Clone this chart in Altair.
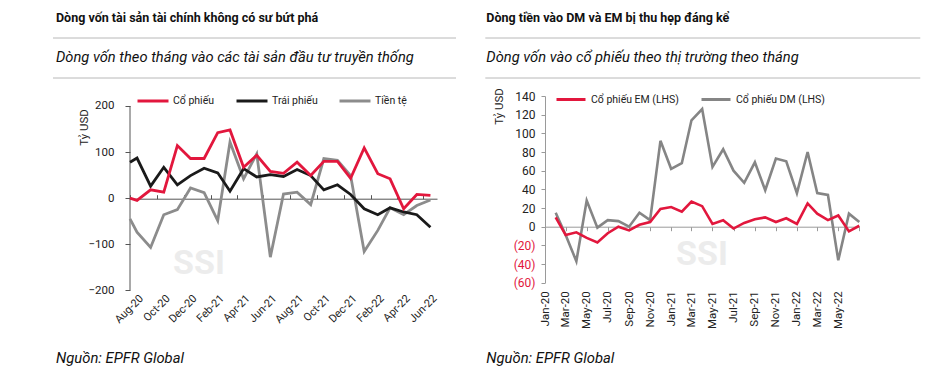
import altair as alt
import pandas as pd

FONT = "Roboto"
RED = "#e2173d"
BLACK = "#1a1a1a"
GRAY_L = "#8c8c8c"
GRAY_R = "#858585"
TXT = "#222222"

# ---------------- Left chart data ----------------
left_dates = [
    "2020-07-16", "2020-08-01", "2020-09-01", "2020-10-01", "2020-11-01", "2020-12-01",
    "2021-01-01", "2021-02-01", "2021-03-01", "2021-04-01", "2021-05-01", "2021-06-01",
    "2021-07-01", "2021-08-01", "2021-09-01", "2021-10-01", "2021-11-01", "2021-12-01",
    "2022-01-01", "2022-02-01", "2022-03-01", "2022-04-01", "2022-05-01", "2022-06-01",
]
left_equity = [0, -5, 18, 13, 114, 86, 86, 142, 148, 67, 93, 58,
               54, 78, 49, 80, 80, 43, 109, 53, 42, -23, 8, 6]
left_bonds = [78, 87, 26, 67, 29, 49, 65, 55, 15, 64, 46, 51,
              47, 62, 49, 18, 29, 8, -23, -36, -21, -30, -36, -63]
left_money = [-45, -74, -107, -36, -25, 22, 12, -49, 122, 42, 96, -128,
              9, 13, -14, 86, 82, 49, -116, -70, -21, -36, -16, -4]
left_series = ["Cổ phiếu", "Trái phiếu", "Tiền tệ"]
left_colors = [RED, BLACK, GRAY_L]
left_label_dates = ["2020-08-01", "2020-10-01", "2020-12-01", "2021-02-01", "2021-04-01",
                    "2021-06-01", "2021-08-01", "2021-10-01", "2021-12-01", "2022-02-01",
                    "2022-04-01", "2022-06-01"]
left_tick_dates = ["2020-07-16", "2020-09-16", "2020-11-16", "2021-01-16", "2021-03-16",
                   "2021-05-16", "2021-07-16", "2021-09-16", "2021-11-16", "2022-01-16",
                   "2022-03-16", "2022-05-16"]
left_y_ticks = [-200, -150, -100, -50, 0, 50, 100, 150, 200]

# ---------------- Right chart data ----------------
right_dates = [
    "2020-02-01", "2020-03-01", "2020-04-01", "2020-05-01", "2020-06-01", "2020-07-01",
    "2020-08-01", "2020-09-01", "2020-10-01", "2020-11-01", "2020-12-01", "2021-01-01",
    "2021-02-01", "2021-03-01", "2021-04-01", "2021-05-01", "2021-06-01", "2021-07-01",
    "2021-08-01", "2021-09-01", "2021-10-01", "2021-11-01", "2021-12-01", "2022-01-01",
    "2022-02-01", "2022-03-01", "2022-04-01", "2022-05-01", "2022-06-01", "2022-07-01",
]
right_em = [10, -9, -6, -12, -17, -7, 0, -4, 2, 5, 19, 21, 16, 27, 22,
            3, 7, -2, 4, 8, 10, 5, 9, 3, 25, 14, 7, 12, -5, 1]
right_dm = [15, -9, -37, 28, -1, 7, 6, 0, 15, 7, 92, 62, 68, 114, 126,
            64, 83, 60, 47, 69, 39, 73, 70, 36, 80, 36, 34, -36, 14, 5]
right_series = ["Cổ phiếu EM (LHS)", "Cổ phiếu DM (LHS)"]
right_colors = [RED, GRAY_R]
right_label_dates = ["2020-01-01", "2020-03-01", "2020-05-01", "2020-07-01", "2020-09-01",
                     "2020-11-01", "2021-01-01", "2021-03-01", "2021-05-01", "2021-07-01",
                     "2021-09-01", "2021-11-01", "2022-01-01", "2022-03-01", "2022-05-01"]
right_tick_dates = right_label_dates + ["2022-07-01"]
right_y_ticks = [-60, -40, -20, 0, 20, 40, 60, 80, 100, 120, 140]


def dt(s):
    y, m, d = (int(p) for p in s.split("-"))
    return alt.DateTime(year=y, month=m, date=d)


left_df = pd.DataFrame({
    "date": pd.to_datetime(left_dates * 3),
    "value": left_money + left_bonds + left_equity,
    "series": [left_series[2]] * 24 + [left_series[1]] * 24 + [left_series[0]] * 24,
})
right_df = pd.DataFrame({
    "date": pd.to_datetime(right_dates * 2),
    "value": right_dm + right_em,
    "series": [right_series[1]] * 30 + [right_series[0]] * 30,
})

one = pd.DataFrame({"a": [0]})


def header_layers(title, subtitle, x0, x1, xt):
    base = alt.Chart(one)
    return [
        base.mark_rule(color="white").encode(x=alt.value(x0), x2=alt.value(x1), y=alt.value(-95)),
        base.mark_text(text=title, align="left", baseline="middle", font=FONT, fontSize=12.5,
                       fontWeight="bold", color="#111111").encode(x=alt.value(xt), y=alt.value(-78)),
        base.mark_rule(color="#b8b8b8", strokeWidth=1).encode(x=alt.value(x0), x2=alt.value(x1), y=alt.value(-58)),
        base.mark_text(text=subtitle, align="left", baseline="middle", font=FONT, fontSize=14.7,
                       fontStyle="italic", color="#111111").encode(x=alt.value(xt), y=alt.value(-38)),
        base.mark_rule(color="#b8b8b8", strokeWidth=1).encode(x=alt.value(x0), x2=alt.value(x1), y=alt.value(-18)),
        base.mark_text(text="Nguồn: EPFR Global", align="left", baseline="middle", font=FONT, fontSize=14.8,
                       fontStyle="italic", color="#111111").encode(x=alt.value(xt), y=alt.value(263)),
    ]


def watermark(x, y):
    return alt.Chart(one).mark_text(text="SSI", fontSize=34, fontWeight="bold", font=FONT,
                                    color="#ececec").encode(x=alt.value(x), y=alt.value(y))


# ---------------- Left chart ----------------
LW, LH = 307, 194.3
lx_scale = alt.Scale(domain=[dt("2020-07-16"), dt("2022-06-16")])
ly_scale = alt.Scale(domain=[-200, 221.7], nice=False, zero=False)

left_lines = alt.Chart(left_df).mark_line(strokeWidth=2.8).encode(
    x=alt.X("date:T", scale=lx_scale, axis=alt.Axis(
        orient="bottom", values=[dt(s) for s in left_label_dates], format="%b-%y",
        labelAngle=-45, labelAlign="right", labelBaseline="top", labelPadding=2,
        labelOverlap=False, labelBound=False, labelFlush=False,
        ticks=False, domain=False, grid=False, title=None,
        labelFont=FONT, labelFontSize=11, labelColor=TXT)),
    y=alt.Y("value:Q", scale=ly_scale, axis=alt.Axis(
        values=left_y_ticks, domain=False, ticks=True, tickSize=5, tickColor="#555555",
        labelPadding=11, labelFont=FONT, labelFontSize=11.5, labelColor=TXT, grid=False,
        labelOverlap=False,
        title="Tỷ USD", titleX=-46, titleY=31, titleAngle=270, titleAlign="center",
        titleBaseline="middle", titleFont=FONT, titleFontSize=11.5, titleFontWeight="normal",
        titleColor=TXT)),
    color=alt.Color("series:N", scale=alt.Scale(domain=left_series, range=left_colors),
                    legend=alt.Legend(orient="none", legendX=6, legendY=-12, direction="horizontal",
                                      title=None, symbolType="stroke", symbolSize=961,
                                      symbolStrokeWidth=3, labelFont=FONT, labelFontSize=10.5,
                                      labelColor=TXT, columnPadding=15, labelOffset=3, padding=0)),
)
left_ticks = alt.Chart(left_df).mark_point(opacity=0).encode(
    x=alt.X("date:T", scale=lx_scale, axis=alt.Axis(
        orient="top", offset=-102.7, values=[dt(s) for s in left_tick_dates], labels=False,
        ticks=True, tickSize=4, tickColor="#555555", domain=True, domainColor="#555555",
        grid=False, title=None)),
)
left_yrule = alt.Chart(one).mark_rule(color="#555555", strokeWidth=1).encode(
    x=alt.value(0), y=alt.datum(-200), y2=alt.datum(200))

left = alt.layer(
    watermark(69, 168),
    *header_layers("Dòng vốn tài sản tài chính không có sư bứt phá",
                   "Dòng vốn theo tháng vào các tài sản đầu tư truyền thống", -77, 326, -74),
    left_yrule, left_ticks, left_lines,
).resolve_axis(x="independent").properties(width=LW, height=LH)

# ---------------- Right chart ----------------
RW, RH = 314.3, 186.7
rx_scale = alt.Scale(domain=[dt("2020-01-01"), dt("2022-07-01")])
ry_scale = alt.Scale(domain=[-60, 140], nice=False, zero=False)

right_lines = alt.Chart(right_df).mark_line(strokeWidth=2.6).encode(
    x=alt.X("date:T", scale=rx_scale, axis=alt.Axis(
        orient="bottom", values=[dt(s) for s in right_label_dates], format="%b-%y",
        labelAngle=270, labelAlign="right", labelBaseline="middle", labelPadding=8,
        labelOverlap=False, labelBound=False, labelFlush=False,
        ticks=False, domain=False, grid=False, title=None,
        labelFont=FONT, labelFontSize=11.5, labelColor=TXT)),
    y=alt.Y("value:Q", scale=ry_scale, axis=alt.Axis(
        values=right_y_ticks, domain=True, domainColor="#9a9a9a", ticks=True, tickSize=4,
        tickColor="#9a9a9a", labelPadding=6, labelFont=FONT, labelFontSize=12,
        labelOverlap=False,
        labelColor={"condition": {"test": "datum.value < 0", "value": RED}, "value": TXT},
        labelExpr="datum.value < 0 ? '(' + (-datum.value) + ')' : datum.value",
        grid=False,
        title="Tỷ USD", titleX=-46, titleY=10, titleAngle=270, titleAlign="center",
        titleBaseline="middle", titleFont=FONT, titleFontSize=11.5, titleFontWeight="normal",
        titleColor=TXT)),
    color=alt.Color("series:N", scale=alt.Scale(domain=right_series, range=right_colors),
                    legend=alt.Legend(orient="none", legendX=10, legendY=-12.5, direction="horizontal",
                                      title=None, symbolType="stroke", symbolSize=841,
                                      symbolStrokeWidth=3, labelFont=FONT, labelFontSize=10.5,
                                      labelColor=TXT, columnPadding=16, labelOffset=4, padding=0)),
)
right_ticks = alt.Chart(right_df).mark_point(opacity=0).encode(
    x=alt.X("date:T", scale=rx_scale, axis=alt.Axis(
        orient="bottom", offset=-56, values=[dt(s) for s in right_tick_dates], labels=False,
        ticks=True, tickSize=4, tickColor="#9a9a9a", domain=True, domainColor="#9a9a9a",
        grid=False, title=None)),
)

right = alt.layer(
    watermark(157, 159),
    *header_layers("Dòng tiền vào DM và EM bị thu hẹp đáng kể",
                   "Dòng vốn vào cổ phiếu theo thị trường theo tháng", -59.7, 375.3, -58.7),
    right_ticks, right_lines,
).resolve_axis(x="independent").properties(width=RW, height=RH)

chart = alt.hconcat(left, right, spacing=27).resolve_scale(color="independent").properties(
    padding={"left": 52, "top": 0, "right": 5, "bottom": 0},
    background="white",
).configure_view(strokeWidth=0)

chart.save("out.html", embed_options={"renderer": "svg", "actions": False})
